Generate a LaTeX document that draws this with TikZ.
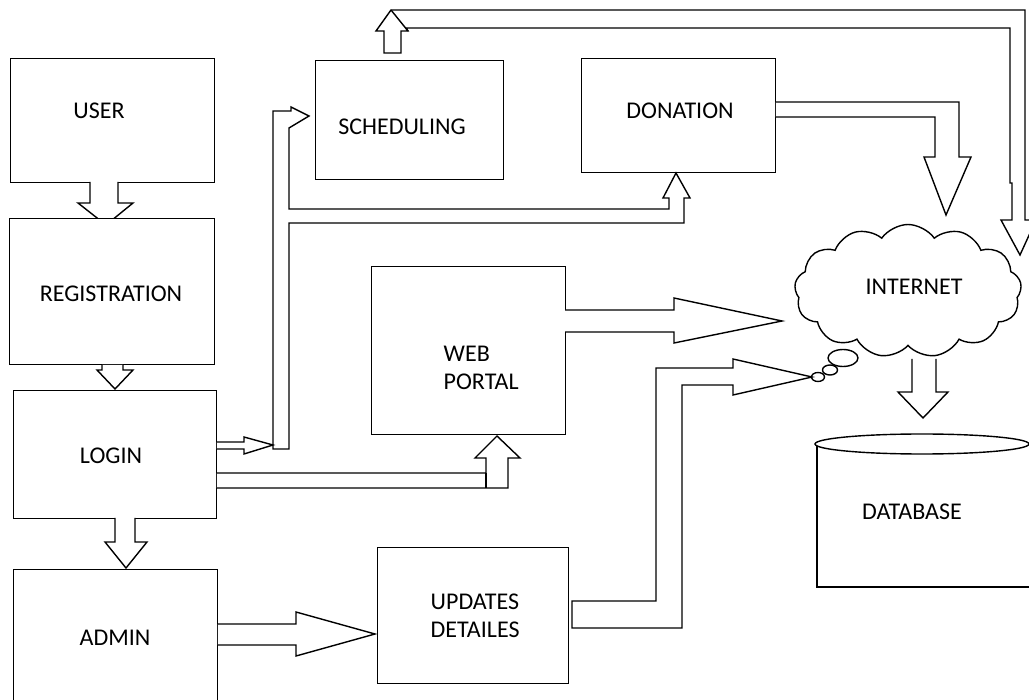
\documentclass[tikz,border=0pt]{standalone}
\usepackage{fontspec}
\setmainfont{Carlito}
\usetikzlibrary{shapes.symbols,shapes.geometric}
\tikzset{
  box/.style={draw, fill=white, inner sep=0pt, anchor=north west},
  pipe/.style={draw, fill=white},
  lbl/.style={font=\fontsize{24}{28}\selectfont, inner sep=0pt, text=black},
  gap/.style={fill=white, draw=none}
}
\begin{document}
\begin{tikzpicture}[x=1pt, y=-1pt, line width=1.4pt, line join=miter]
\useasboundingbox[fill=white] (0,0) rectangle (1029,700);

% ---------- left column ----------
\node[box, minimum width=204pt, minimum height=124pt] (user) at (10,58) {};
\fill[gap] (91,180) rectangle (117,184);
\filldraw[pipe] (90,182) -- (90,203) -- (78,203) -- (106,225) -- (133,203) -- (118,203) -- (118,182);
\node[box, minimum width=205pt, minimum height=146pt] (reg) at (9,218) {};
\filldraw[pipe] (102,364.8) -- (102,370) -- (97,370) -- (115,389) -- (133,370) -- (123,370) -- (123,364.8);
\node[box, minimum width=203pt, minimum height=128pt] (login) at (13,390) {};
\fill[gap] (116,516) rectangle (134,520);
\filldraw[pipe] (115,518) -- (115,542) -- (105,542) -- (126,568) -- (147,542) -- (135,542) -- (135,518);
\node[box, minimum width=204pt, minimum height=150pt] (admin) at (13,569) {};

\node[lbl] (userT) at (99,111) {USER};
\node[lbl] (regT) at (111,294) {REGISTRATION};
\node[lbl] (loginT) at (111,456) {LOGIN};
\node[lbl] (adminT) at (115,638) {ADMIN};

% ---------- middle boxes ----------
\node[box, minimum width=188pt, minimum height=119pt] (sched) at (315,60) {};
\node[box, minimum width=194pt, minimum height=114pt] (don) at (581,58) {};
\node[box, minimum width=194pt, minimum height=168pt] (web) at (371,266) {};
\node[box, minimum width=191pt, minimum height=136pt] (upd) at (377,547) {};

\node[lbl] (schedT) at (402,127) {SCHEDULING};
\node[lbl] (donT) at (680,111) {DONATION};
\node[lbl, anchor=west, align=left] (webT) at (443,368) {WEB\\PORTAL};
\node[lbl, anchor=west, align=left] (updT) at (430,616) {UPDATES\\DETAILES};

% ---------- internet cloud ----------
\node[cloud, draw, fill=white, cloud puffs=13, cloud puff arc=110, aspect=1.7,
      minimum width=227pt, minimum height=133pt, inner sep=0pt] (internet) at (908,291) {};
\draw[fill=white] (843,358) ellipse [x radius=15, y radius=8.5];
\draw[fill=white] (830,370) ellipse [x radius=7.5, y radius=5];
\draw[fill=white] (818,377) ellipse [x radius=6.5, y radius=4.5];
\node[lbl] (internetT) at (914,287) {INTERNET};

% ---------- database ----------
\draw (817,444) -- (817,587) -- (1040,587);
\draw[fill=white] (922,444) ellipse [x radius=107, y radius=10];
\node[lbl] (dbT) at (912,512) {DATABASE};

% ---------- block arrows ----------
% scheduling -> top pipe -> internet
\filldraw[pipe] (384,53) -- (384,31) -- (376,31) -- (391,10) -- (1025,10) -- (1025,220)
  -- (1036,220) -- (1020,255) -- (1001,220) -- (1012,220) -- (1012,183) -- (1010,183)
  -- (1010,28) -- (406,28) -- (408,31) -- (401,31) -- (401,53) -- cycle;
\draw (391,10) -- (408,31);

% login -> riser -> scheduling / donation
\filldraw[pipe] (273,449) -- (273,111) -- (291,111) -- (291,107) -- (309,116) -- (289,128)
  -- (289,209) -- (669,209) -- (669,198) -- (663,198) -- (676,173) -- (690,198) -- (684,198)
  -- (684,223) -- (289,223) -- (289,449) -- cycle;
\filldraw[pipe] (216.8,442) -- (244,442) -- (244,437) -- (273,445) -- (244,454) -- (244,449) -- (216.8,449);

% login -> web portal
\filldraw[pipe] (216.8,473) -- (486,473) -- (486,458) -- (475,458) -- (497,436) -- (520,458)
  -- (508,458) -- (508,488) -- (216.8,488);
\draw (486,473) -- (486,488);

% web portal -> internet
\fill[gap] (563,311) rectangle (567,331);
\filldraw[pipe] (565,310) -- (674,310) -- (674,298) -- (782,321) -- (674,343) -- (674,332) -- (565,332);

% donation -> internet
\filldraw[pipe] (775.8,102) -- (959,102) -- (959,157) -- (971,157) -- (946,215) -- (924,157)
  -- (935,157) -- (935,117) -- (775.8,117);

% internet -> database
\filldraw[pipe] (912,359) -- (912,392) -- (898,392) -- (923,418) -- (948,392) -- (936,392) -- (936,359);

% admin -> updates
\filldraw[pipe] (217.8,624) -- (296,624) -- (296,612) -- (375,634) -- (296,656) -- (296,645) -- (217.8,645);

% updates -> internet
\filldraw[pipe] (572,601) -- (656,601) -- (656,368) -- (733,368) -- (733,359) -- (812,377)
  -- (733,395) -- (733,385) -- (682,385) -- (682,628) -- (572,628) -- cycle;
\end{tikzpicture}
\end{document}
